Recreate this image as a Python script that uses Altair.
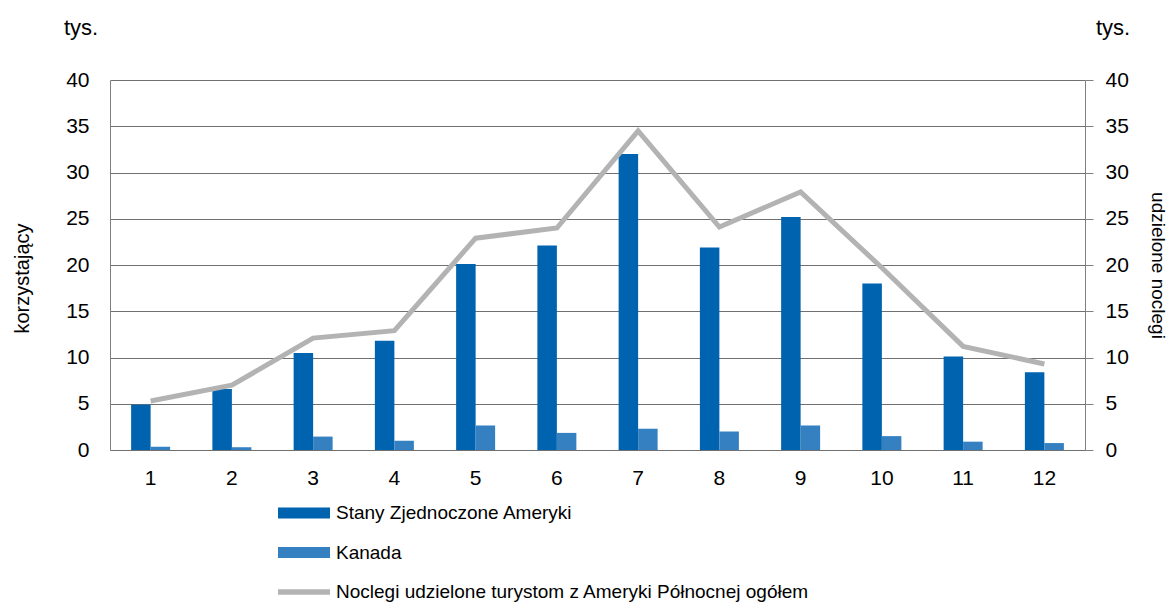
import altair as alt
import pandas as pd

months = [str(i) for i in range(1, 13)]
usa = [4.9, 6.6, 10.5, 11.8, 20.1, 22.1, 32.0, 21.9, 25.2, 18.0, 10.1, 8.4]
canada = [0.35, 0.3, 1.45, 1.0, 2.65, 1.85, 2.3, 2.0, 2.65, 1.5, 0.9, 0.75]
total = [5.3, 7.0, 12.1, 12.9, 22.9, 24.0, 34.5, 24.1, 27.9, 19.7, 11.2, 9.3]
series_names = [
    "Stany Zjednoczone Ameryki",
    "Kanada",
    "Noclegi udzielone turystom z Ameryki Północnej ogółem",
]
colors = ["#0063AF", "#3480C0", "#B3B3B3"]
y_ticks = list(range(0, 41, 5))

FONT = "Liberation Sans, Arial, sans-serif"

bars_df = pd.DataFrame({
    "month": months * 2,
    "series": [series_names[0]] * 12 + [series_names[1]] * 12,
    "value": usa + canada,
})
line_df = pd.DataFrame({"month": months, "value": total, "series": [series_names[2]] * 12})
leg_df = pd.DataFrame({"series": series_names})
tys_df = pd.DataFrame({"t": ["tys."]})

xscale = alt.Scale(domain=months, paddingInner=0.52, paddingOuter=0.26)
xaxis = alt.Axis(labelAngle=0, ticks=False, labelPadding=17, domainColor="#707070",
                 labelFontSize=21, title=None)
color_scale = alt.Scale(domain=series_names, range=colors)

p_rect = "M-1,-0.55H4.2V0.55H-1Z"
p_line = "M-1,-0.28H4.2V0.28H-1Z"
leg_def = alt.Legend(title=None, orient="none", legendX=168, legendY=423, direction="vertical",
                     symbolSize=400, symbolStrokeWidth=0, symbolOpacity=1, labelOffset=38,
                     rowPadding=19.5, labelFontSize=19, labelFont=FONT, labelLimit=800, padding=0)

bars = alt.Chart(bars_df).mark_bar().encode(
    x=alt.X("month:N", scale=xscale, axis=xaxis, sort=months),
    xOffset=alt.XOffset("series:N", scale=alt.Scale(domain=series_names[:2], paddingInner=0, paddingOuter=0)),
    y=alt.Y("value:Q", scale=alt.Scale(domain=[0, 40]),
            axis=alt.Axis(orient="left", values=y_ticks, title="korzystający", ticks=False,
                          labelPadding=21, grid=True, gridColor="#707070", domainColor="#808080",
                          labelFontSize=21, titleFontSize=20, titleX=-88, titleY=198,
                          titleAngle=270, titleAlign="center", titleBaseline="middle")),
    color=alt.Color("series:N", scale=color_scale, legend=leg_def),
)

line = alt.Chart(line_df).mark_line(color="#B3B3B3", strokeWidth=5).encode(
    x=alt.X("month:N", scale=xscale, axis=xaxis, sort=months),
    y=alt.Y("value:Q", scale=alt.Scale(domain=[0, 40]),
            axis=alt.Axis(orient="right", values=y_ticks, title="udzielone noclegi", tickSize=8,
                          tickColor="#808080", labelPadding=12, grid=False, domainColor="#808080",
                          labelFontSize=21, titleFontSize=19, titleX=72, titleY=185,
                          titleAngle=90, titleAlign="center", titleBaseline="middle")),
)

leg = alt.Chart(leg_df).mark_point(filled=True, opacity=0).encode(
    color=alt.Color("series:N", scale=color_scale, legend=leg_def),
    shape=alt.Shape("series:N", scale=alt.Scale(domain=series_names, range=[p_rect, p_rect, p_line]),
                    legend=leg_def),
)

tys_left = alt.Chart(tys_df).mark_text(align="left", baseline="alphabetic", fontSize=22, font=FONT,
                                       color="black").encode(
    text="t:N", x=alt.value(-46), y=alt.value(-45))
tys_right = alt.Chart(tys_df).mark_text(align="left", baseline="alphabetic", fontSize=22, font=FONT,
                                        color="black").encode(
    text="t:N", x=alt.value(986), y=alt.value(-45))

chart = alt.layer(bars, line, leg, tys_left, tys_right).resolve_scale(
    y="independent"
).properties(
    width=975, height=370,
    autosize=alt.AutoSizeParams(type="none"),
    padding={"left": 102, "top": 72, "right": 83, "bottom": 156},
).configure_view(stroke=None).configure_axis(
    labelFont=FONT, titleFont=FONT, labelColor="black", titleColor="black",
    titleFontWeight="normal",
)

chart.save("out.html", embed_options={"renderer": "svg", "actions": False})
